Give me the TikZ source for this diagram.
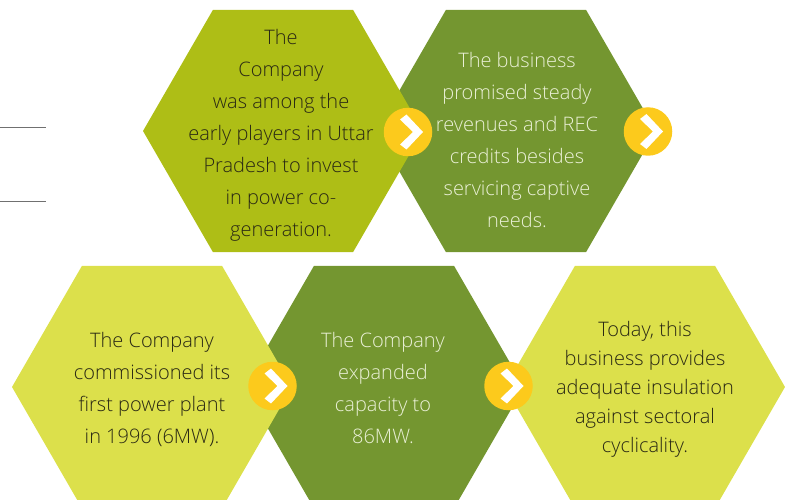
\documentclass[tikz,border=0pt]{standalone}
\usepackage{fontspec}
\setmainfont{Open Sans}[UprightFont=* Light]
\usetikzlibrary{shapes.geometric}
\definecolor{hexA}{HTML}{AEBE16}
\definecolor{hexB}{HTML}{749630}
\definecolor{hexC}{HTML}{DCE04B}
\definecolor{circ}{HTML}{FCCA1C}
\definecolor{txtdark}{HTML}{2A2914}
\definecolor{txtlight}{HTML}{EAF0D6}
\definecolor{rulegray}{HTML}{707070}
\begin{document}
\begin{tikzpicture}[x=1pt,y=-1pt,
  hexbox/.style={regular polygon, regular polygon sides=6, minimum size=280pt,
    inner sep=0pt, outer sep=0pt, draw=none},
  hextext/.style={align=center, font=\fontsize{20}{32}\selectfont, inner sep=0pt},
  hextextB/.style={align=center, font=\fontsize{20}{29}\selectfont, inner sep=0pt},
  dot/.style={circle, fill=circ, minimum size=48.5pt, inner sep=0pt, outer sep=0pt},
  chev/.pic={\fill[white] (-8,-12.5) -- (-1.5,-17.5) -- (15,0) -- (-1.5,17.5)
    -- (-8,12.5) -- (5,0) -- cycle;},
  sideline/.style={draw=rulegray, line width=1pt}
]
\useasboundingbox (0,0) rectangle (785,500);
\begin{scope}
\clip (0,0) rectangle (785,500);
\node[hexbox, fill=hexB] (h2) at (516,131) {};
\node[hexbox, fill=hexA] (h1) at (283,131) {};
\node[hexbox, fill=hexC] (h5) at (645,387) {};
\node[hexbox, fill=hexB] (h4) at (384,387) {};
\node[hexbox, fill=hexC] (h3) at (152,387) {};
\end{scope}

\coordinate (la) at (0,128);
\coordinate (lb) at (46,128);
\coordinate (lc) at (0,202);
\coordinate (ld) at (46,202);
\path[sideline] (la) -- (lb);
\path[sideline] (lc) -- (ld);

\node[hextext, text=txtdark] (t1) at (281,135.4)
  {The\\Company\\was among the\\early players in Uttar\\Pradesh to invest\\in power co-\\generation.};
\node[hextext, text=txtlight] (t2) at (517,140.3)
  {The business\\promised steady\\revenues and REC\\credits besides\\servicing captive\\needs.};
\node[hextext, text=txtdark] (t3) at (152,389.8)
  {The Company\\commissioned its\\first power plant\\in 1996 (6MW).};
\node[hextext, text=txtlight] (t4) at (383,387.8)
  {The Company\\expanded\\capacity to\\86MW.};
\node[hextextB, text=txtdark] (t5) at (645,389.8)
  {Today, this\\business provides\\adequate insulation\\against sectoral\\cyclicality.};

\node[dot] (c1) at (408,132) {};
\node[dot] (c2) at (648,131.5) {};
\node[dot] (c3) at (272.5,386) {};
\node[dot] (c4) at (508.5,386) {};
\pic at (c1) {chev};
\pic at (c2) {chev};
\pic at (c3) {chev};
\pic at (c4) {chev};
\end{tikzpicture}
\end{document}
